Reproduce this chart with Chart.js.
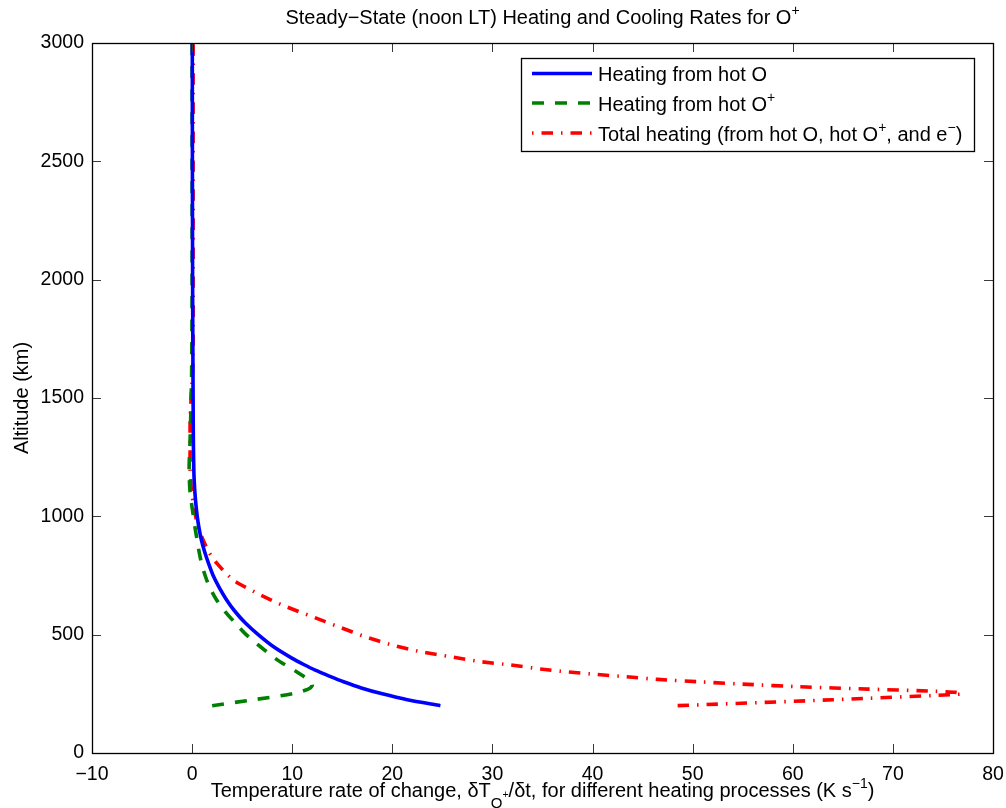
<!DOCTYPE html>
<html>
<head>
<meta charset="utf-8">
<script src="https://cdn.jsdelivr.net/npm/chart.js@4.4.0/dist/chart.umd.min.js"></script>
<style>
  html, body { margin: 0; padding: 0; background: #fff; }
</style>
</head>
<body>
<canvas id="heatChart" width="1006" height="808"></canvas>
<script>
// altitude (km) and heating rate (K/s)
const altHotO = [200, 225, 250, 275, 300, 325, 350, 375, 400, 450, 500, 550, 600, 650, 700, 750, 800, 850, 900, 950, 1000, 1050, 1100, 1150, 1200, 1300, 1400, 1500, 1750, 2000, 2500, 3000];
const rateHotO = [24.8, 21.5, 19.0, 16.9, 15.2, 13.7, 12.3, 11.1, 10.0, 8.1, 6.6, 5.3, 4.25, 3.4, 2.7, 2.1, 1.65, 1.25, 0.93, 0.69, 0.51, 0.38, 0.28, 0.21, 0.17, 0.13, 0.11, 0.1, 0.07, 0.05, 0.03, 0.02];

const altHotOp = [200, 225, 250, 270, 285, 300, 325, 350, 375, 400, 450, 500, 550, 600, 650, 700, 750, 800, 850, 900, 950, 1000, 1100, 1200, 1300, 1400, 1500, 1600, 1750, 2000, 2500, 3000];
const rateHotOp = [2.0, 6.1, 10.0, 11.6, 12.0, 11.9, 11.1, 10.2, 9.2, 8.3, 6.8, 5.4, 4.3, 3.25, 2.4, 1.75, 1.3, 0.95, 0.7, 0.5, 0.3, 0.13, -0.2, -0.3, -0.22, -0.15, -0.1, -0.05, -0.02, 0.0, 0.0, 0.0];

const altTotal = [200, 225, 249, 256, 262, 270, 280, 290, 300, 311, 322, 332, 343, 355, 372, 386, 407, 428, 456, 491, 534, 576, 625, 675, 731, 800, 850, 900, 950, 1000, 1050, 1100, 1200, 1300, 1400, 1500, 1600, 1750, 2000, 2500, 3000];
const rateTotal = [48.5, 64.0, 76.9, 76.3, 73.5, 67.5, 60.7, 55.5, 51.0, 46.5, 43.4, 40.4, 37.4, 34.8, 31.8, 28.8, 25.8, 22.8, 20.0, 17.3, 14.6, 12.0, 9.0, 6.5, 4.1, 2.5, 1.65, 1.1, 0.65, 0.35, 0.15, -0.05, -0.2, -0.2, -0.2, -0.1, 0.05, 0.1, 0.1, 0.1, 0.1];

const seriesLabels = [
    'Heating from hot O',
    'Heating from hot O^{+}',
    'Total heating (from hot O, hot O^{+}, and e^{\u2212})'
];

const xTickValues = [-10, 0, 10, 20, 30, 40, 50, 60, 70, 80];
const xTickLabels = ['\u221210', '0', '10', '20', '30', '40', '50', '60', '70', '80'];
const yTickValues = [0, 500, 1000, 1500, 2000, 2500, 3000];
const yTickLabels = ['0', '500', '1000', '1500', '2000', '2500', '3000'];

const titleText = 'Steady\u2212State (noon LT) Heating and Cooling Rates for O^{+}';
const xTitleText = 'Temperature rate of change, \u03b4T_{O^{+}}/\u03b4t, for different heating processes (K s^{\u22121})';
const yTitleText = 'Altitude (km)';

const FONT = '"Liberation Sans", Arial, Helvetica, sans-serif';
const FSIZE = 20;
const TICKSIZE = 19.5;

function toPoints(xs, ys) {
    return xs.map((v, i) => ({ x: v, y: ys[i] }));
}

// split a string with ^{..} / _{..} into pieces with size and baseline shift
function parseRich(str, size, dy, inSub, out) {
    let buf = '';
    let i = 0;
    while (i < str.length) {
        const c = str[i];
        if ((c === '^' || c === '_') && str[i + 1] === '{') {
            if (buf) { out.push({ t: buf, size: size, dy: dy }); buf = ''; }
            let depth = 1, j = i + 2;
            while (j < str.length && depth) {
                if (str[j] === '{') depth++;
                else if (str[j] === '}') depth--;
                j++;
            }
            const inner = str.slice(i + 2, j - 1);
            if (c === '^') parseRich(inner, size * 0.7, dy - size * (inSub ? 0.7 : 0.45), inSub, out);
            else parseRich(inner, size * 0.75, dy + size * 0.55, true, out);
            i = j;
        } else {
            buf += c;
            i++;
        }
    }
    if (buf) out.push({ t: buf, size: size, dy: dy });
    return out;
}

function drawRich(ctx, str, x, y, align) {
    const parts = parseRich(str, FSIZE, 0, false, []);
    let total = 0;
    parts.forEach(p => {
        ctx.font = p.size + 'px ' + FONT;
        p.w = ctx.measureText(p.t).width;
        total += p.w;
    });
    let cx = align === 'center' ? x - total / 2 : x;
    ctx.textAlign = 'left';
    ctx.textBaseline = 'alphabetic';
    parts.forEach(p => {
        ctx.font = p.size + 'px ' + FONT;
        ctx.fillText(p.t, cx, y + p.dy);
        cx += p.w;
    });
}

const framePlugin = {
    id: 'frame',
    afterDatasetsDraw(chart) {
        const { ctx, chartArea: a, scales } = chart;
        ctx.save();
        ctx.strokeStyle = '#3a3a3a';
        ctx.lineWidth = 1;
        const tick = 9;
        ctx.beginPath();
        scales.x.ticks.forEach(t => {
            const px = Math.round(scales.x.getPixelForValue(t.value)) + 0.5;
            ctx.moveTo(px, a.bottom); ctx.lineTo(px, a.bottom - tick);
            ctx.moveTo(px, a.top); ctx.lineTo(px, a.top + tick);
        });
        scales.y.ticks.forEach(t => {
            const py = Math.round(scales.y.getPixelForValue(t.value)) + 0.5;
            ctx.moveTo(a.left, py); ctx.lineTo(a.left + tick, py);
            ctx.moveTo(a.right, py); ctx.lineTo(a.right - tick, py);
        });
        ctx.stroke();
        ctx.strokeStyle = '#000';
        ctx.lineWidth = 1.3;
        ctx.strokeRect(Math.round(a.left) + 0.5, Math.round(a.top) + 0.5,
            Math.round(a.right - a.left), Math.round(a.bottom - a.top));
        ctx.restore();
    }
};

const textPlugin = {
    id: 'richText',
    afterDraw(chart) {
        const { ctx, chartArea: a } = chart;
        const mid = (a.left + a.right) / 2;
        ctx.save();
        ctx.fillStyle = '#000';
        drawRich(ctx, titleText, mid, 24, 'center');
        drawRich(ctx, xTitleText, mid, 797, 'center');
        ctx.translate(28, (a.top + a.bottom) / 2);
        ctx.rotate(-Math.PI / 2);
        drawRich(ctx, yTitleText, 0, 0, 'center');
        ctx.restore();
    }
};

const boxLegendPlugin = {
    id: 'boxLegend',
    afterDraw(chart) {
        const { ctx } = chart;
        const box = { left: 521, top: 58, right: 974, bottom: 151 };
        const rows = [73.5, 103, 133];
        ctx.save();
        ctx.fillStyle = '#fff';
        ctx.fillRect(box.left, box.top, box.right - box.left, box.bottom - box.top);
        ctx.strokeStyle = '#000';
        ctx.lineWidth = 1.3;
        ctx.strokeRect(box.left + 0.5, box.top + 0.5, box.right - box.left, box.bottom - box.top);
        chart.data.datasets.forEach((ds, i) => {
            const y = rows[i];
            ctx.strokeStyle = ds.borderColor;
            ctx.lineWidth = ds.borderWidth;
            ctx.setLineDash(ds.borderDash || []);
            ctx.lineDashOffset = ds.legendDashOffset || 0;
            ctx.beginPath();
            ctx.moveTo(532, y);
            ctx.lineTo(592, y);
            ctx.stroke();
            ctx.setLineDash([]);
            ctx.fillStyle = '#000';
            drawRich(ctx, ds.label, 598, y + 7.5, 'left');
        });
        ctx.restore();
    }
};

const ctx = document.getElementById('heatChart').getContext('2d');

new Chart(ctx, {
    type: 'scatter',
    data: {
        datasets: [
            {
                label: seriesLabels[0],
                data: toPoints(rateHotO, altHotO),
                showLine: true,
                borderColor: '#0000ff',
                borderWidth: 3.6,
                pointRadius: 0,
                tension: 0.25,
                fill: false
            },
            {
                label: seriesLabels[1],
                data: toPoints(rateHotOp, altHotOp),
                showLine: true,
                borderColor: '#008000',
                borderWidth: 3.6,
                borderDash: [12, 11],
                pointRadius: 0,
                tension: 0.25,
                fill: false
            },
            {
                label: seriesLabels[2],
                data: toPoints(rateTotal, altTotal),
                showLine: true,
                borderColor: '#ff0000',
                borderWidth: 3.6,
                borderDash: [11.5, 8, 1.5, 8],
                legendDashOffset: 19.5,
                pointRadius: 0,
                tension: 0.2,
                fill: false
            }
        ]
    },
    options: {
        responsive: false,
        animation: false,
        layout: { padding: { top: 43, right: 13, left: 0, bottom: 0 } },
        plugins: {
            legend: { display: false },
            tooltip: { enabled: false },
            title: { display: false }
        },
        scales: {
            x: {
                type: 'linear',
                min: -10,
                max: 80,
                ticks: {
                    stepSize: 10,
                    autoSkip: false,
                    maxRotation: 0,
                    padding: 10,
                    color: '#000',
                    font: { family: FONT, size: TICKSIZE },
                    callback: v => xTickLabels[xTickValues.indexOf(v)]
                },
                grid: { display: false, drawTicks: false },
                border: { display: false },
                afterFit: s => { s.height = 55; s.paddingRight = 0; s.paddingLeft = 0; }
            },
            y: {
                type: 'linear',
                min: 0,
                max: 3000,
                ticks: {
                    stepSize: 500,
                    autoSkip: false,
                    padding: 8,
                    color: '#000',
                    font: { family: FONT, size: TICKSIZE },
                    callback: v => yTickLabels[yTickValues.indexOf(v)]
                },
                grid: { display: false, drawTicks: false },
                border: { display: false },
                afterFit: s => { s.width = 92; s.paddingTop = 0; s.paddingBottom = 0; }
            }
        }
    },
    plugins: [framePlugin, textPlugin, boxLegendPlugin]
});
</script>
</body>
</html>
